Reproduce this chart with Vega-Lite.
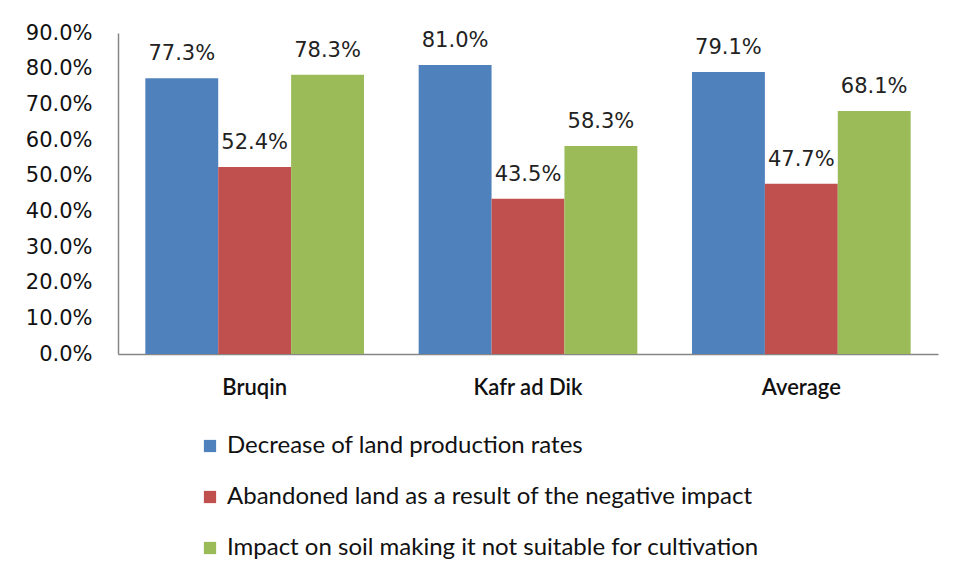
{
  "$schema": "https://vega.github.io/schema/vega-lite/v6.json",
  "autosize": "none",
  "width": 820,
  "height": 321,
  "padding": {"left": 118, "top": 33, "right": 16, "bottom": 223},
  "background": "white",
  "config": {"view": {"stroke": null}},
  "data": {
    "values": [
      {"site": "Bruqin", "impact": "Decrease of land production rates", "value": 0.773},
      {"site": "Bruqin", "impact": "Abandoned land as a result of the negative impact", "value": 0.524},
      {"site": "Bruqin", "impact": "Impact on soil making it not suitable for cultivation", "value": 0.783},
      {"site": "Kafr ad Dik", "impact": "Decrease of land production rates", "value": 0.81},
      {"site": "Kafr ad Dik", "impact": "Abandoned land as a result of the negative impact", "value": 0.435},
      {"site": "Kafr ad Dik", "impact": "Impact on soil making it not suitable for cultivation", "value": 0.583},
      {"site": "Average", "impact": "Decrease of land production rates", "value": 0.791},
      {"site": "Average", "impact": "Abandoned land as a result of the negative impact", "value": 0.477},
      {"site": "Average", "impact": "Impact on soil making it not suitable for cultivation", "value": 0.681}
    ]
  },
  "encoding": {
    "x": {
      "field": "site", "type": "nominal", "sort": null, "title": null,
      "scale": {"paddingInner": 0.2, "paddingOuter": 0.1},
      "axis": {"labelAngle": 0, "ticks": false, "labelPadding": 23, "labelFont": "Lato", "labelFontSize": 22, "labelFontWeight": 600, "labelColor": "#111111", "domainColor": "#868686", "domainWidth": 1.5}
    },
    "xOffset": {"field": "impact", "type": "nominal", "sort": null},
    "y": {
      "field": "value", "type": "quantitative", "title": null,
      "scale": {"domain": [0, 0.9]},
      "axis": {"format": ".1%", "values": [0, 0.1, 0.2, 0.3, 0.4, 0.5, 0.6, 0.7, 0.8, 0.9], "labelOverlap": false, "grid": false, "ticks": false, "labelPadding": 26, "labelFont": "DejaVu Sans", "labelFontSize": 21, "labelColor": "#111111", "domainColor": "#868686", "domainWidth": 1.5}
    }
  },
  "layer": [
    {
      "mark": {"type": "bar"},
      "encoding": {
        "color": {
          "field": "impact", "type": "nominal", "sort": null, "title": null,
          "scale": {"range": ["#4F81BD", "#C0504D", "#9BBB59"]},
          "legend": {
            "orient": "none", "legendX": 80, "legendY": 401, "direction": "vertical",
            "symbolType": "square", "symbolSize": 150, "symbolStrokeWidth": 0, "symbolOpacity": 1,
            "labelFont": "Lato", "labelFontSize": 24, "labelColor": "#111111",
            "labelOffset": 5, "rowPadding": 27, "labelLimit": 800
          }
        }
      }
    },
    {
      "mark": {"type": "text", "baseline": "middle", "dy": -24, "font": "DejaVu Sans", "fontSize": 21, "color": "#222222"},
      "encoding": {"text": {"field": "value", "type": "quantitative", "format": ".1%"}}
    }
  ]
}
